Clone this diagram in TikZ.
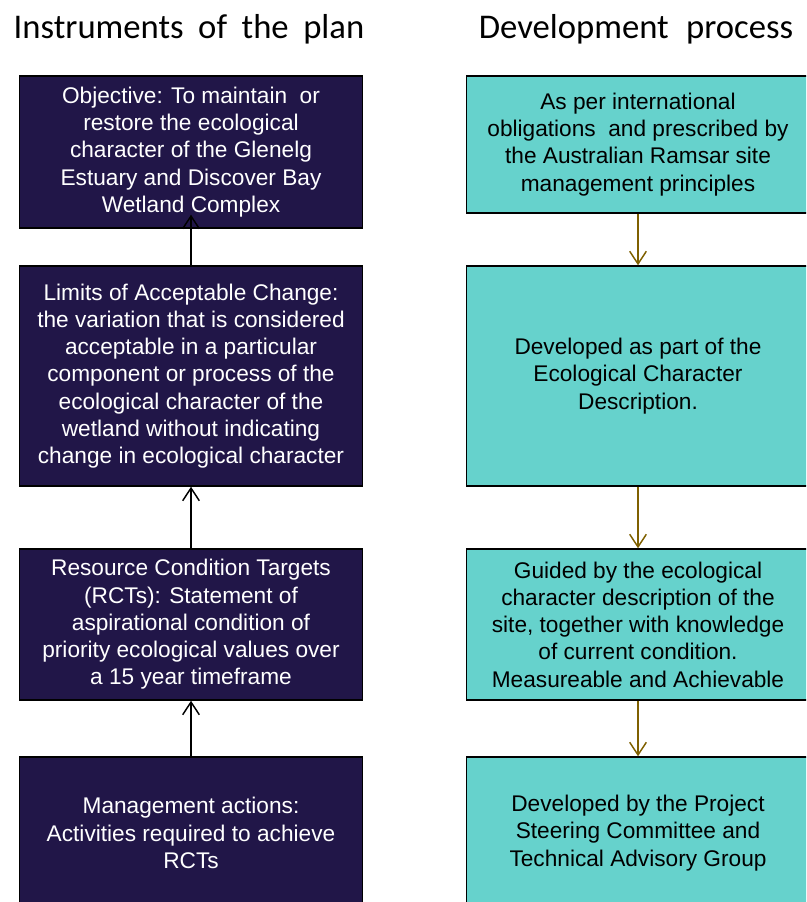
\documentclass[tikz,border=0pt]{standalone}
\usepackage{fontspec}
\setmainfont{Liberation Sans}
\newfontfamily\headfont{Carlito}
\usetikzlibrary{arrows.meta,calc}
\definecolor{navy}{RGB}{33,22,72}
\definecolor{teal2}{RGB}{102,210,204}
\definecolor{olive2}{RGB}{127,96,0}
\tikzset{
  base box/.style={draw=black, line width=1.1pt, inner sep=0pt, align=center,
    minimum width=257pt, font=\fontsize{17}{20.4}\selectfont},
  navybox/.style={base box, fill=navy, text=white},
  tealbox/.style={base box, fill=teal2, text=black},
  hh/.style={minimum height={#1*0.75pt}},
  uparrow/.style={line width=1.1pt, draw=black, -{Straight Barb[length=9.5pt,width=12.5pt,line width=1.1pt]}},
  downarrow/.style={line width=1.1pt, draw=olive2, -{Straight Barb[length=9.5pt,width=12.5pt,line width=1.1pt]}},
  header/.style={font=\headfont\fontsize{26}{30}\selectfont, anchor=base, inner sep=0pt}
}
\begin{document}
\begin{tikzpicture}[x=0.75pt,y=-0.75pt]
\useasboundingbox (0,0) rectangle (806,902);
\clip (0,0) rectangle (806,902);
\node[header] (h1) at (189,39) {Instruments\hspace{0.42em}of\hspace{0.42em}the\hspace{0.42em}plan};
\node[header] (h2) at (636,39) {Development\hspace{0.5em}process};

\node[navybox, hh=152] (l1) at (191,152) {Objective: To maintain\ \ or\\restore the ecological\\character of the Glenelg\\Estuary and Discover Bay\\Wetland Complex};
\node[navybox, hh=220] (l2) at (191,376) {Limits of Acceptable Change:\\the variation that is considered\\acceptable in a particular\\component or process of the\\ecological character of the\\wetland without indicating\\change in ecological character};
\node[navybox, hh=151] (l3) at (191,624.5) {Resource Condition Targets\\(RCTs): Statement of\\aspirational condition of\\priority ecological values over\\a 15 year timeframe};
\node[navybox, hh=152] (l4) at (191,833) {Management actions:\\Activities required to achieve\\RCTs};

\node[tealbox, hh=137] (r1) at (638,144.5) {As per international\\obligations\ \ and prescribed by\\the Australian Ramsar site\\management principles};
\node[tealbox, hh=220] (r2) at (638,376) {Developed as part of the\\Ecological Character\\Description.};
\node[tealbox, hh=151] (r3) at (638,624.5) {Guided by the ecological\\character description of the\\site, together with knowledge\\of current condition.\\Measureable and Achievable};
\node[tealbox, hh=152] (r4) at (638,833) {Developed by the Project\\Steering Committee and\\Technical Advisory Group};

\draw[uparrow] (l2.north) -- ($(l1.south)+(0,-14)$);
\draw[uparrow] (l3.north) -- (l2.south);
\draw[uparrow] (l4.north) -- (l3.south);
\draw[downarrow] (r1.south) -- (r2.north);
\draw[downarrow] (r2.south) -- (r3.north);
\draw[downarrow] (r3.south) -- (r4.north);
\end{tikzpicture}
\end{document}
